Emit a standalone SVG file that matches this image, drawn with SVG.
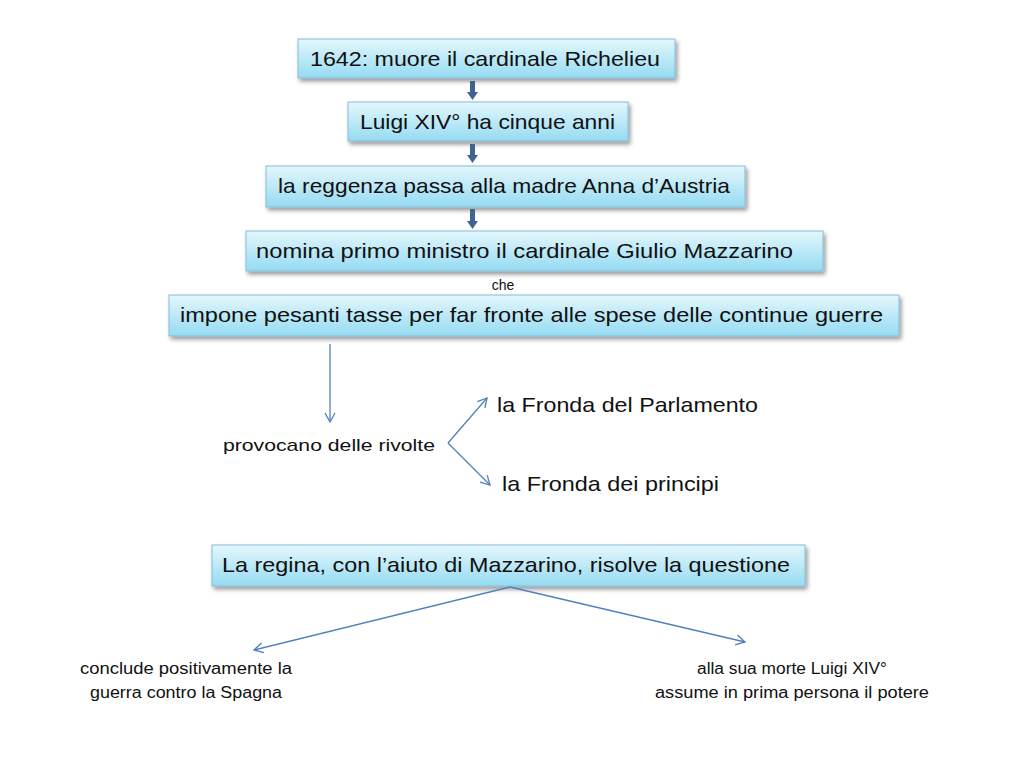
<svg xmlns="http://www.w3.org/2000/svg" width="1024" height="768" viewBox="0 0 1024 768">
<defs>
<linearGradient id="g" x1="0" y1="0" x2="0" y2="1">
<stop offset="0" stop-color="#e4f7fd"/>
<stop offset="1" stop-color="#95dbf2"/>
</linearGradient>
<filter id="sh" x="-5%" y="-20%" width="110%" height="160%">
<feGaussianBlur in="SourceAlpha" stdDeviation="2"/>
<feOffset dx="2" dy="3"/>
<feComponentTransfer><feFuncA type="linear" slope="0.4"/></feComponentTransfer>
<feMerge><feMergeNode/><feMergeNode in="SourceGraphic"/></feMerge>
</filter>
<marker id="oa" markerWidth="12" markerHeight="12" refX="10" refY="6" orient="auto" markerUnits="userSpaceOnUse">
<path d="M1,1 L10,6 L1,11" fill="none" stroke="#4f81bd" stroke-width="1.3"/>
</marker>
</defs>
<style>
.box{fill:url(#g);stroke:#86bcd9;stroke-width:1;filter:url(#sh)}
.t{font-family:"Liberation Sans",Arial,sans-serif;fill:#111}
.big{font-size:21px}
.mid{font-size:17px}
.sm{font-size:16px}
.conn{stroke:#4f81bd;stroke-width:1.3;fill:none}
.thick{fill:#41648f}
</style>
<rect width="1024" height="768" fill="#fff"/>
<g id="n1"><rect class="box" x="298" y="39" width="377" height="39"/><text class="t big" x="310" y="66" textLength="350" lengthAdjust="spacingAndGlyphs">1642: muore il cardinale Richelieu</text></g>
<g id="n2"><rect class="box" x="348" y="102" width="280" height="39"/><text class="t big" x="360" y="129" textLength="255" lengthAdjust="spacingAndGlyphs">Luigi XIV° ha cinque anni</text></g>
<g id="n3"><rect class="box" x="266" y="166" width="479" height="41"/><text class="t big" x="278" y="193" textLength="452" lengthAdjust="spacingAndGlyphs">la reggenza passa alla madre Anna d’Austria</text></g>
<g id="n4"><rect class="box" x="246" y="231" width="577" height="40"/><text class="t big" x="256" y="258" textLength="537" lengthAdjust="spacingAndGlyphs">nomina primo ministro il cardinale Giulio Mazzarino</text></g>
<g id="che"><text class="t" x="503" y="290" font-size="14" text-anchor="middle">che</text></g>
<g id="n5"><rect class="box" x="169" y="295" width="730" height="41"/><text class="t big" x="180" y="322" textLength="703" lengthAdjust="spacingAndGlyphs">impone pesanti tasse per far fronte alle spese delle continue guerre</text></g>
<g id="n6"><text class="t mid" x="223" y="451" textLength="212" lengthAdjust="spacingAndGlyphs">provocano delle rivolte</text></g>
<g id="n7"><text class="t big" x="497" y="412" textLength="261" lengthAdjust="spacingAndGlyphs">la Fronda del Parlamento</text></g>
<g id="n8"><text class="t big" x="502" y="491" textLength="217" lengthAdjust="spacingAndGlyphs">la Fronda dei principi</text></g>
<g id="n9"><rect class="box" x="212" y="545" width="593" height="41"/><text class="t big" x="222" y="572" textLength="568" lengthAdjust="spacingAndGlyphs">La regina, con l’aiuto di Mazzarino, risolve la questione</text></g>
<g id="n10"><text class="t sm" text-anchor="middle"><tspan x="186" y="674" textLength="212" lengthAdjust="spacingAndGlyphs">conclude positivamente la</tspan><tspan x="186" y="698" textLength="192" lengthAdjust="spacingAndGlyphs">guerra contro la Spagna</tspan></text></g>
<g id="n11"><text class="t sm" text-anchor="middle"><tspan x="792" y="674" textLength="190" lengthAdjust="spacingAndGlyphs">alla sua morte Luigi XIV°</tspan><tspan x="792" y="698" textLength="274" lengthAdjust="spacingAndGlyphs">assume in prima persona il potere</tspan></text></g>
<g id="connectors">
<path class="thick" d="M470,81 h5 v11 h3 l-5.5,8 l-5.5,-8 h3 z"/>
<path class="thick" d="M470,144 h5 v11 h3 l-5.5,8 l-5.5,-8 h3 z"/>
<path class="thick" d="M470,209 h5 v12 h3 l-5.5,8 l-5.5,-8 h3 z"/>
<line class="conn" x1="330" y1="344" x2="330" y2="422" marker-end="url(#oa)"/>
<line class="conn" x1="448" y1="443" x2="487" y2="398" marker-end="url(#oa)"/>
<line class="conn" x1="448" y1="443" x2="490" y2="485" marker-end="url(#oa)"/>
<line class="conn" x1="510" y1="587" x2="254" y2="650" marker-end="url(#oa)"/>
<line class="conn" x1="510" y1="587" x2="745" y2="642" marker-end="url(#oa)"/>
</g>
</svg>
